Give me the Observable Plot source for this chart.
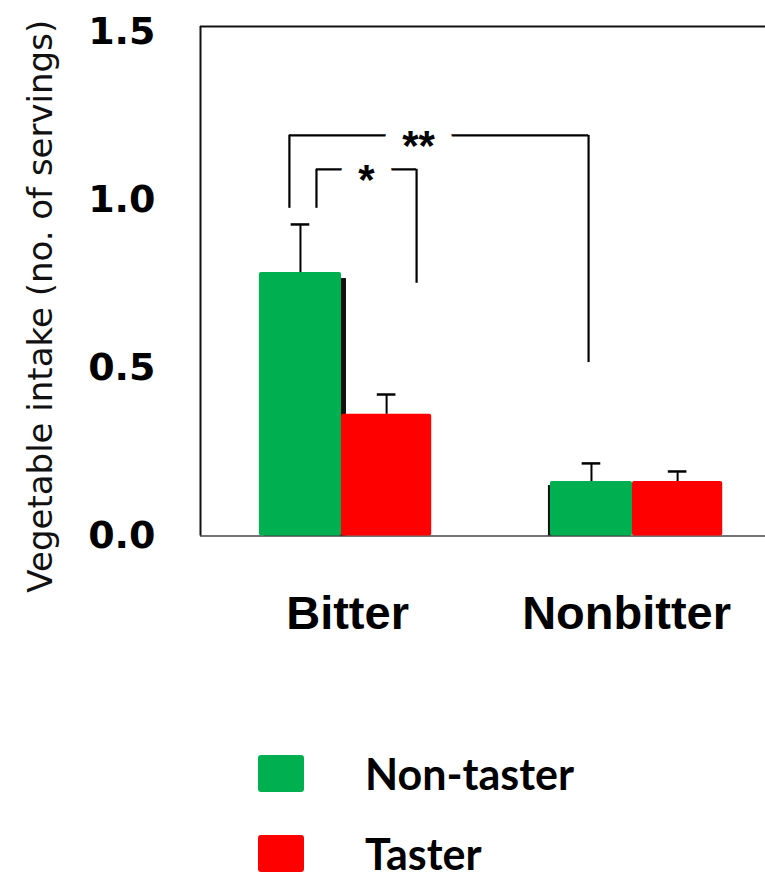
<!DOCTYPE html>
<html><head><meta charset="utf-8">
<script src="https://cdn.jsdelivr.net/npm/d3@7"></script>
<script src="https://cdn.jsdelivr.net/npm/@observablehq/plot@0.6"></script>
<style>
body{margin:0;background:#fff;}
#legend{font-family:Lato, sans-serif;font-weight:bold;font-size:43px;color:#000;}
.row{display:flex;align-items:center;height:37px;}
.sw{width:46px;height:37px;border-radius:3px;margin-left:258px;flex:none;}
.lab{margin-left:61px;line-height:1;white-space:nowrap;}
</style></head><body>
<div id="chart"></div><div id="legend"></div>
<script>
// ---- data ----
const categories = ["Bitter", "Nonbitter"];
const series = ["Non-taster", "Taster"];
const seriesColors = ["#00B050", "#FF0000"];
const nonTasterMean = [0.784, 0.162];
const nonTasterErrTop = [0.927, 0.216];
const tasterMean = [0.362, 0.162];
const tasterErrTop = [0.421, 0.192];
// faint black bars of the scanned original peeking out behind the green bars
const scanBarTop = [0.766, 0.150];
const yTicks = [0, 0.5, 1.0, 1.5];
const yLabel = "Vegetable intake (no. of servings)";
const bracketLabels = ["**", "*"];
const bracketX1 = [-0.179, -0.086];
const bracketX2 = [0.849, 0.258];
const bracketY = [1.192, 1.091];
const bracketLeftEnd = [0.975, 0.975];
const bracketRightEnd = [0.516, 0.752];
const bracketTextX = [0.265, 0.086];

// ---- build tables ----
const greenW = 0.282, redW = 0.31, capHalf = 0.032;
const rows = categories.flatMap((c, i) => [
  {cat: c, series: series[0], x1: i - greenW, x2: i, value: nonTasterMean[i], err: nonTasterErrTop[i]},
  {cat: c, series: series[1], x1: i, x2: i + redW, value: tasterMean[i], err: tasterErrTop[i]}
]);
rows.forEach(d => d.cx = (d.x1 + d.x2) / 2);
const scan = categories.map((c, i) => ({x1: i - greenW, x2: i, top: scanBarTop[i]}));
const cats = categories.map((c, i) => ({cat: c, x: i + (redW - greenW) / 2}));
const brackets = bracketLabels.map((l, i) => ({label: l, x1: bracketX1[i], x2: bracketX2[i], y: bracketY[i],
  left: bracketLeftEnd[i], right: bracketRightEnd[i], tx: bracketTextX[i]}));

const xDomain = [-0.4845, 1.457];
const yMax = 1.516;

const chart = Plot.plot({
  width: 765, height: 680,
  marginLeft: 200, marginRight: 0, marginTop: 26, marginBottom: 144.5,
  x: {domain: xDomain, axis: null},
  y: {domain: [0, yMax], axis: null},
  color: {domain: series, range: seriesColors},
  style: {background: "#fff"},
  marks: [
    Plot.ruleY([0], {stroke: "#444", strokeWidth: 1.5}),
    Plot.ruleY([yMax], {stroke: "#111", strokeWidth: 2}),
    Plot.ruleX([xDomain[0]], {y1: 0, y2: yMax, stroke: "#111", strokeWidth: 2}),
    Plot.axisY({ticks: yTicks, tickSize: 0, tickPadding: 45, tickFormat: d3.format(".1f"),
      fontSize: 38, fontWeight: "bold", fontFamily: "DejaVu Sans", fill: "#000", label: null}),
    Plot.text([yLabel], {frameAnchor: "left", textAnchor: "middle", rotate: -90, dx: -159, dy: 25, fontSize: 34,
      fontFamily: "DejaVu Sans", fill: "#111"}),
    Plot.ruleX(rows, {x: "cx", y1: "value", y2: "err", stroke: "#000", strokeWidth: 2}),
    Plot.ruleY(rows, {y: "err", x1: d => d.cx - capHalf, x2: d => d.cx + capHalf, stroke: "#000", strokeWidth: 2.5}),
    Plot.rectY(scan.slice(0, 1), {x1: "x1", x2: "x2", y: "top", fill: "#111", dx: 5}),
    Plot.rectY(scan.slice(1), {x1: "x1", x2: "x2", y: "top", fill: "#111", dx: -2}),
    Plot.rectY(rows, {x1: "x1", x2: "x2", y: "value", fill: "series", rx: 2}),
    Plot.ruleY(brackets, {y: "y", x1: "x1", x2: "x2", stroke: "#000", strokeWidth: 2.2}),
    Plot.ruleX(brackets, {x: "x1", y1: "left", y2: "y", stroke: "#000", strokeWidth: 2.2}),
    Plot.ruleX(brackets, {x: "x2", y1: "right", y2: "y", stroke: "#000", strokeWidth: 2.2}),
    Plot.text(brackets, {x: "tx", y: "y", text: "label", fontSize: 42, fontWeight: "bold",
      fontFamily: "Liberation Sans", fill: "#000", stroke: "#fff", strokeWidth: 34, dy: 11}),
    Plot.text(cats.slice(0, 1), {x: "x", y: 0, text: "cat", lineAnchor: "top", dy: 60, dx: 2, fontSize: 47,
      fontWeight: "bold", fontFamily: "Liberation Sans", fill: "#000"}),
    Plot.text(cats.slice(1), {x: "x", y: 0, text: "cat", lineAnchor: "top", dy: 60, dx: -10, fontSize: 47,
      fontWeight: "bold", fontFamily: "Liberation Sans", fill: "#000"})
  ]
});
document.getElementById("chart").appendChild(chart);

const legend = document.getElementById("legend");
series.forEach((s, i) => {
  const row = document.createElement("div");
  row.className = "row";
  row.style.marginTop = (i === 0 ? 75 : 43) + "px";
  const sw = document.createElement("div");
  sw.className = "sw";
  sw.style.background = seriesColors[i];
  const lab = document.createElement("div");
  lab.className = "lab";
  lab.textContent = s;
  row.appendChild(sw); row.appendChild(lab);
  legend.appendChild(row);
});
</script>
</body></html>
